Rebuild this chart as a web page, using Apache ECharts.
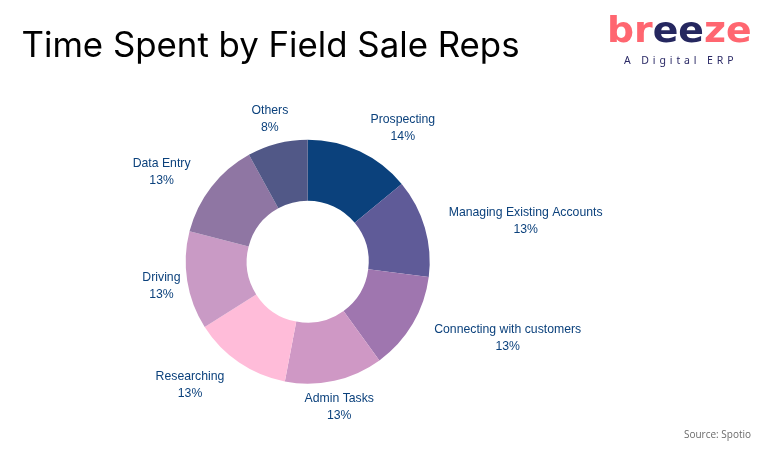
<!DOCTYPE html>
<html>
<head>
<meta charset="utf-8">
<script src="https://cdn.jsdelivr.net/npm/echarts@6/dist/echarts.min.js"></script>
<style>
html, body { margin: 0; padding: 0; background: #fff; }
#wrap { position: relative; width: 770px; height: 450px; }
#chart { width: 770px; height: 450px; }
#tagline {
	position: absolute; left: 624px; top: 53px;
	font: 10.5px "Noto Sans", sans-serif; color: #2b2a66; letter-spacing: 3.9px; white-space: nowrap;
}
</style>
</head>
<body>
<div id="wrap">
	<div id="chart"></div>
	<div id="tagline">A Digital ERP</div>
</div>
<script>
var categories = ['Prospecting', 'Managing Existing Accounts', 'Connecting with customers', 'Admin Tasks', 'Researching', 'Driving', 'Data Entry', 'Others'];
var shares = [14, 13, 13, 13, 13, 13, 13, 8];
var sliceColors = ['#0b417c', '#5f5b98', '#9f76af', '#cf98c5', '#ffbcd9', '#c99ac5', '#8f76a3', '#515887'];

// small tweaks so labels sit where the original has them, [dx, dy]
var labelNudges = [[35.5, -6.5], [83.5, -2], [79.5, 5], [1, 9], [-39, 8], [-8, 3], [-35.5, -4], [-3, -7]];

var chart = echarts.init(document.getElementById('chart'), null, {renderer: 'canvas'});

var option = {
	animation: false,
	backgroundColor: '#fff',
	title: {
		text: 'Time Spent by Field Sale Reps',
		left: 16.5,
		top: 24,
		textStyle: {color: '#000', fontFamily: 'Inter', fontWeight: 'normal', fontSize: 34.8}
	},
	graphic: [
		{
			type: 'text',
			x: 607,
			y: 15,
			scaleX: 1.08,
			style: {
				text: '{a|br}{b|ee}{a|ze}',
				rich: {
					a: {fill: '#ff6670', font: 'bold 35px "DejaVu Sans"'},
					b: {fill: '#25275f', font: 'bold 35px "DejaVu Sans"'}
				}
			}
		},
		{
			type: 'text',
			right: 19,
			top: 430,
			style: {text: 'Source: Spotio', fill: '#6b6b6b', font: '10px "Open Sans"'}
		}
	],
	series: [{
		type: 'pie',
		center: [307.7, 261.7],
		radius: [61, 122],
		startAngle: 90,
		clockwise: true,
		avoidLabelOverlap: false,
		data: categories.map(function (name, i) {
			return {name: name, value: shares[i], itemStyle: {color: sliceColors[i]}};
		}),
		label: {
			position: 'outside',
			formatter: '{b}\n{c}%',
			color: '#0b417c',
			fontFamily: 'Liberation Sans',
			fontSize: 12.25,
			lineHeight: 17,
			distanceToLabelLine: 0
		},
		labelLine: {show: false, length: 18, length2: 0},
		labelLayout: function (params) {
			var n = labelNudges[params.dataIndex];
			return {align: 'center', dx: n[0], dy: n[1]};
		}
	}]
};
chart.setOption(option);
</script>
</body>
</html>
